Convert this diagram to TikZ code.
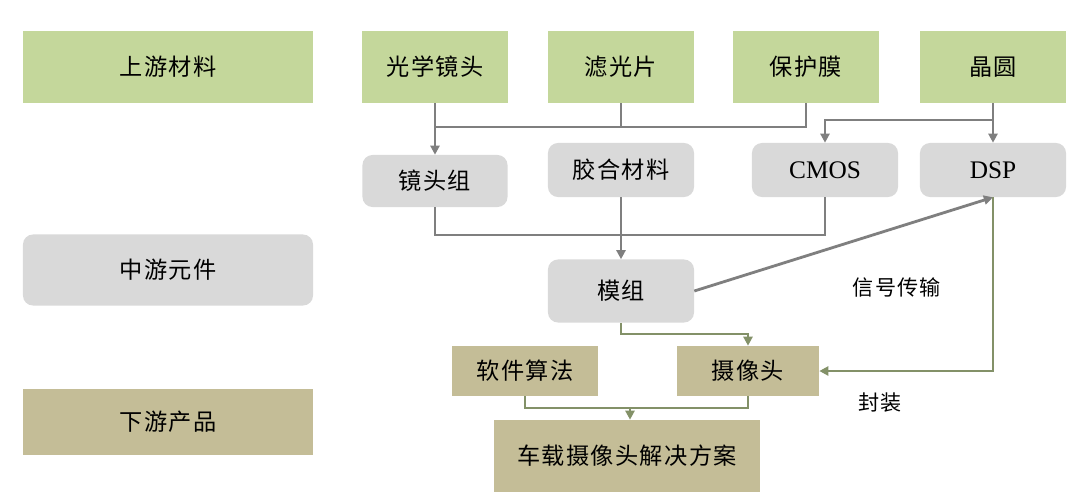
\documentclass[tikz,border=0pt]{standalone}
\usepackage{fontspec}
\setmainfont{Liberation Serif}
\newfontfamily\cjk[LetterSpace=6]{Noto Sans CJK SC}
\usetikzlibrary{arrows.meta,positioning}
\definecolor{upgreen}{HTML}{C4D79B}
\definecolor{midgray}{HTML}{D9D9D9}
\definecolor{downtan}{HTML}{C4BD97}
\definecolor{linkgray}{HTML}{7F7F7F}
\definecolor{packolive}{HTML}{839168}
\tikzset{
box/.style={
	  inner sep=0pt, font=\cjk\fontsize{16.5}{20}\selectfont, text=black},
upbox/.style={box, fill=upgreen, minimum width=3.65cm, minimum height=1.8cm},
midbox/.style={box, fill=midgray, rounded corners=0.25cm,
	  minimum width=3.65cm, minimum height=1.35cm},
downbox/.style={box, fill=downtan, minimum width=3.6cm, minimum height=1.25cm},
band/.style={minimum width=7.25cm},
latin/.style={font=\fontsize{18}{20}\selectfont},
link/.style={draw=linkgray, line width=2pt, -{Triangle[length=6.5pt,width=6.5pt]}},
wire/.style={draw=linkgray, line width=2pt},
pack/.style={draw=packolive, line width=2pt, -{Triangle[length=6.5pt,width=6.5pt]}},
packwire/.style={draw=packolive, line width=2pt},
note/.style={font=\cjk\fontsize{15}{18}\selectfont}
}

\begin{document}
\begin{tikzpicture}[x=0.025cm, y=-0.025cm]
	\useasboundingbox (0,0) rectangle (1080,501);
	% left column
	\node[upbox, band] (up) at (168,67) {上游材料};
	\node[midbox, band, minimum height=1.775cm] (mid) at (168,270) {中游元件};
	\node[downbox, band, minimum height=1.625cm] (down) at (168,422) {下游产品};
	% materials
	\node[upbox] (lens) at (435,67) {光学镜头};
	\node[upbox] (filter) at (621,67) {滤光片};
	\node[upbox] (film) at (806,67) {保护膜};
	\node[upbox] (wafer) at (993,67) {晶圆};
	% parts
	\node[midbox, minimum width=3.625cm, minimum height=1.3cm] (lensgrp) at (435,181) {镜头组};
	\node[midbox] (glue) at (621,170) {胶合材料};
	\node[midbox, latin] (cmos) at (825,170) {CMOS};
	\node[midbox, latin] (dsp) at (993,170) {DSP};
	\node[midbox, minimum height=1.575cm] (module) at (621,291) {模组};
	% products
	\node[downbox, minimum width=3.625cm] (soft) at (525,371) {软件算法};
	\node[downbox, minimum width=3.55cm] (cam) at (748,371) {摄像头};
	\node[downbox, minimum width=6.65cm, minimum height=1.8cm] (sol) at (627,456) {车载摄像头解决方案};
	\node[note] (signal) at (897,287) {信号传输};
	\node[note] (seal) at (880,403) {封装};
	% junctions
	\coordinate (j1) at (621,127);
	\coordinate (j2) at (826,120);
	\coordinate (j3) at (621,235);
	\coordinate (j4) at (700,334);
	\coordinate (j5) at (630,408);
	% connectors
	\draw[link] (lens) -- (lensgrp);
	\draw[wire] (film.south) |- (lens.south |- j1);
	\draw[wire] (filter.south) -- (j1);
	\draw[link] (wafer) -- (dsp);
	\draw[link] (wafer.south |- j2) -| (cmos.north);
	\draw[wire] (lensgrp.south) |- (j3) -| (cmos.south);
	\draw[link] (glue) -- (module);
	\draw[link] (module.east) -- (dsp.south);
	\draw[pack] (module.south) |- (j4) -| (cam.north);
	\draw[pack] (dsp.south) |- (cam.east);
	\draw[packwire] (soft.south) |- (j5) -| (cam.south);
	\draw[pack] (j5) -- (j5 |- sol.north);
\end{tikzpicture}
\end{document}
